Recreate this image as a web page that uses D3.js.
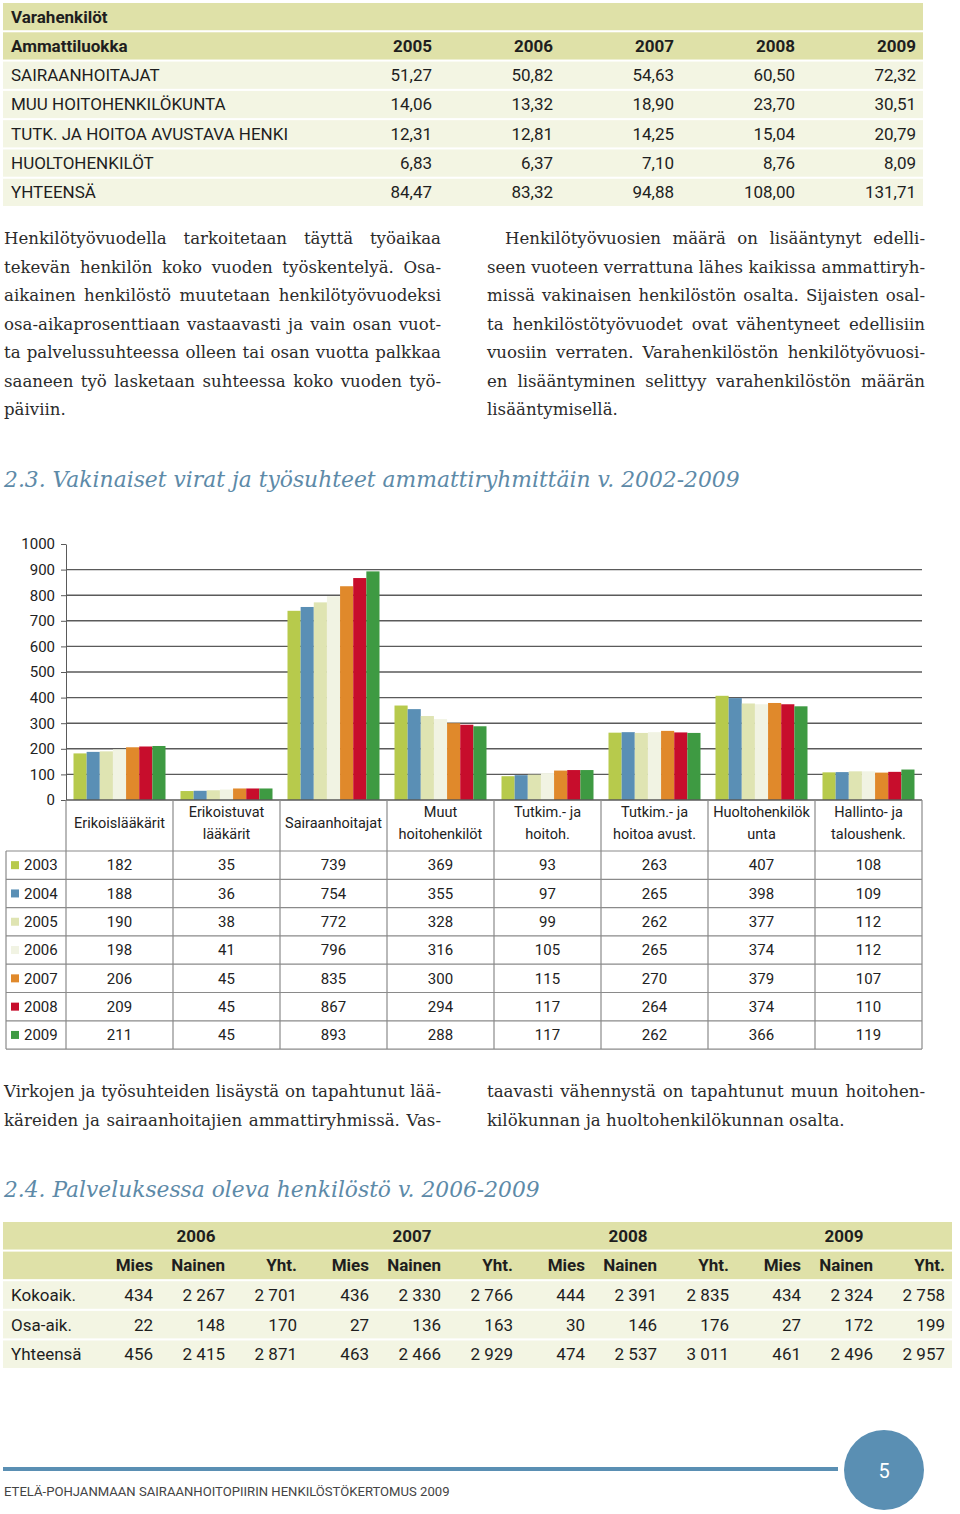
<!DOCTYPE html>
<html>
<head>
<meta charset="utf-8">
<script src="https://cdn.jsdelivr.net/npm/d3@7"></script>
<style>
  body { margin: 0; background: #fff; }
  svg { display: block; }
</style>
</head>
<body>
<script>
// --- Varahenkilöt table ---
var varaYears = ['2005', '2006', '2007', '2008', '2009'];
var varaRows = ['SAIRAANHOITAJAT', 'MUU HOITOHENKILÖKUNTA', 'TUTK. JA HOITOA AVUSTAVA HENKI', 'HUOLTOHENKILÖT', 'YHTEENSÄ'];
var varaSairaanhoitajat = [51.27, 50.82, 54.63, 60.50, 72.32];
var varaMuuHoito = [14.06, 13.32, 18.90, 23.70, 30.51];
var varaTutk = [12.31, 12.81, 14.25, 15.04, 20.79];
var varaHuolto = [6.83, 6.37, 7.10, 8.76, 8.09];
var varaYhteensa = [84.47, 83.32, 94.88, 108.00, 131.71];

// --- chart 2.3 ---
var categories = ['Erikoislääkärit', 'Erikoistuvat\nlääkärit', 'Sairaanhoitajat', 'Muut\nhoitohenkilöt',
  'Tutkim.- ja\nhoitoh.', 'Tutkim.- ja\nhoitoa avust.', 'Huoltohenkilök\nunta', 'Hallinto- ja\ntaloushenk.'];
var years = ['2003', '2004', '2005', '2006', '2007', '2008', '2009'];
var v2003 = [182, 35, 739, 369, 93, 263, 407, 108];
var v2004 = [188, 36, 754, 355, 97, 265, 398, 109];
var v2005 = [190, 38, 772, 328, 99, 262, 377, 112];
var v2006 = [198, 41, 796, 316, 105, 265, 374, 112];
var v2007 = [206, 45, 835, 300, 115, 270, 379, 107];
var v2008 = [209, 45, 867, 294, 117, 264, 374, 110];
var v2009 = [211, 45, 893, 288, 117, 262, 366, 119];
var yTicks = [0, 100, 200, 300, 400, 500, 600, 700, 800, 900, 1000];
var yearColors = ['#b7ca4c', '#5a8fb5', '#dfe4b2', '#f1f3e3', '#e0892b', '#c70d2c', '#3e9a42'];

// --- table 2.4 ---
var persYears = ['2006', '2007', '2008', '2009'];
var persCols = ['Mies', 'Nainen', 'Yht.'];
var persRows = ['Kokoaik.', 'Osa-aik.', 'Yhteensä'];
var persKokoaik = [434, 2267, 2701, 436, 2330, 2766, 444, 2391, 2835, 434, 2324, 2758];
var persOsaaik = [22, 148, 170, 27, 136, 163, 30, 146, 176, 27, 172, 199];
var persYhteensa = [456, 2415, 2871, 463, 2466, 2929, 474, 2537, 3011, 461, 2496, 2957];

// --- texts ---
var paraLeft = [
  'Henkilötyövuodella tarkoitetaan täyttä työaikaa',
  'tekevän henkilön koko vuoden työskentelyä. Osa-',
  'aikainen henkilöstö muutetaan henkilötyövuodeksi',
  'osa-aikaprosenttiaan vastaavasti ja vain osan vuot-',
  'ta palvelussuhteessa olleen tai osan vuotta palkkaa',
  'saaneen työ lasketaan suhteessa koko vuoden työ-',
  'päiviin.'];
var paraRight = [
  'Henkilötyövuosien määrä on lisääntynyt edelli-',
  'seen vuoteen verrattuna lähes kaikissa ammattiryh-',
  'missä vakinaisen henkilöstön osalta. Sijaisten osal-',
  'ta henkilöstötyövuodet ovat vähentyneet edellisiin',
  'vuosiin verraten. Varahenkilöstön henkilötyövuosi-',
  'en lisääntyminen selittyy varahenkilöstön määrän',
  'lisääntymisellä.'];
var para2Left = [
  'Virkojen ja työsuhteiden lisäystä on tapahtunut lää-',
  'käreiden ja sairaanhoitajien ammattiryhmissä. Vas-'];
var para2Right = [
  'taavasti vähennystä on tapahtunut muun hoitohen-',
  'kilökunnan ja huoltohenkilökunnan osalta.'];

var fiLocale = d3.formatLocale({decimal: ',', thousands: ' ', grouping: [3], currency: ['', '']});
var fmtDec = fiLocale.format('.2f');
var fmtInt = fiLocale.format(',d');

var sansFont = 'Roboto, "Noto Sans", sans-serif';
var serifFont = '"DejaVu Serif", serif';
var khaki = '#dfe1a8';
var pale = '#f3f5e3';
var blue = '#5a8fb3';

var svg = d3.select('body').append('svg').attr('width', 960).attr('height', 1514);

// scale the font size of a single text so it spans the given width
function fitWidth(t, w) {
  var fs = parseFloat(t.attr('font-size'));
  var len = t.node().getComputedTextLength();
  t.attr('font-size', fs * w / len);
}

// justified line: each word placed so the line fills the width
function textLine(g, str, x0, width, y, justify, fs) {
  var t = g.append('text').attr('y', y).attr('font-size', fs);
  if (!justify) { t.attr('x', x0).text(str); return; }
  var words = str.split(' ');
  var spans = t.selectAll('tspan').data(words).join('tspan').text(function(d) { return d; });
  var widths = spans.nodes().map(function(n) { return n.getComputedTextLength(); });
  var minGap = fs * 0.22;
  var sum = d3.sum(widths);
  if (sum + minGap * (words.length - 1) > width) {
    // too long: shrink this line a little
    var k = (width - minGap * (words.length - 1)) / sum;
    t.attr('font-size', fs * k);
    widths = spans.nodes().map(function(n) { return n.getComputedTextLength(); });
    sum = d3.sum(widths);
  }
  var gap = (width - sum) / (words.length - 1);
  var x = x0;
  spans.each(function(d, i) {
    d3.select(this).attr('x', x);
    x += widths[i] + gap;
  });
}

function paragraph(lines, x0, width, y0, lh, lastJustify, indent, fs) {
  var g = svg.append('g').attr('font-family', serifFont).attr('fill', '#2b2b2b');
  lines.forEach(function(l, i) {
    var ind = (i === 0 && indent) ? indent : 0;
    var last = i === lines.length - 1;
    textLine(g, l, x0 + ind, width - ind, y0 + i * lh, !last || lastJustify, fs);
  });
}

// ============ Varahenkilöt table ============
var varaData = [varaSairaanhoitajat, varaMuuHoito, varaTutk, varaHuolto, varaYhteensa];
var tRow = d3.scaleBand().domain(d3.range(7)).range([3, 206]).paddingInner(0.07);
var tCol = d3.scalePoint().domain(varaYears).range([432, 916]);
var topTbl = svg.append('g').attr('font-family', sansFont).attr('font-size', 17).attr('fill', '#1e1e1e');

topTbl.selectAll('rect').data(d3.range(7)).join('rect')
  .attr('x', 3).attr('width', 920)
  .attr('y', function(d) { return tRow(d); })
  .attr('height', tRow.bandwidth())
  .attr('fill', function(d) { return d < 2 ? khaki : pale; });

topTbl.append('text').attr('x', 11).attr('y', tRow(0) + tRow.bandwidth() / 2).attr('dy', '0.35em')
  .attr('font-weight', 'bold').text('Varahenkilöt');
topTbl.append('text').attr('x', 11).attr('y', tRow(1) + tRow.bandwidth() / 2).attr('dy', '0.35em')
  .attr('font-weight', 'bold').text('Ammattiluokka');
topTbl.selectAll('.yh').data(varaYears).join('text')
  .attr('x', function(d) { return tCol(d); })
  .attr('y', tRow(1) + tRow.bandwidth() / 2).attr('dy', '0.35em')
  .attr('text-anchor', 'end').attr('font-weight', 'bold').text(function(d) { return d; });

varaRows.forEach(function(r, i) {
  var cy = tRow(i + 2) + tRow.bandwidth() / 2;
  topTbl.append('text').attr('x', 11).attr('y', cy).attr('dy', '0.35em').text(r);
  topTbl.selectAll('.v' + i).data(varaData[i]).join('text')
    .attr('x', function(d, j) { return tCol(varaYears[j]); })
    .attr('y', cy).attr('dy', '0.35em').attr('text-anchor', 'end')
    .text(function(d) { return fmtDec(d); });
});

// ============ paragraphs ============
paragraph(paraLeft, 4, 437, 244, 28.5, false, 0, 16.6);
paragraph(paraRight, 487, 438, 244, 28.5, false, 18, 16.6);

// ============ heading 2.3 ============
var h1 = svg.append('text').attr('x', 4).attr('y', 487)
  .attr('font-family', serifFont).attr('font-style', 'italic').attr('font-size', 22)
  .attr('fill', '#5d8aa8').text('2.3. Vakinaiset virat ja työsuhteet ammattiryhmittäin v. 2002-2009');
fitWidth(h1, 736);

// ============ chart ============
var series = [v2003, v2004, v2005, v2006, v2007, v2008, v2009];
var x0 = d3.scaleBand().domain(categories).range([66, 922]);
var x1 = d3.scaleBand().domain(years).range([7.5, 99.5]);
var y = d3.scaleLinear().domain([0, 1000]).range([800, 544]);
var chart = svg.append('g').attr('font-family', sansFont);

chart.selectAll('.grid').data(yTicks.filter(function(d) { return d > 0 && d < 1000; })).join('line')
  .attr('x1', 66).attr('x2', 922)
  .attr('y1', function(d) { return y(d); }).attr('y2', function(d) { return y(d); })
  .attr('stroke', '#5a5a5a').attr('stroke-width', 1.4);

var yAxis = chart.append('g').attr('transform', 'translate(66,0)')
  .call(d3.axisLeft(y).tickValues(yTicks).tickFormat(d3.format('d'))
    .tickSize(5).tickSizeOuter(0).tickPadding(6));
yAxis.selectAll('text').attr('font-size', 15).attr('fill', '#222').attr('font-family', sansFont);
yAxis.selectAll('line,path').attr('stroke', '#5a5a5a');

var catG = chart.selectAll('.cat').data(categories).join('g')
  .attr('transform', function(d) { return 'translate(' + x0(d) + ',0)'; });
catG.selectAll('rect').data(function(d, ci) {
  return years.map(function(yr, yi) { return {year: yr, yi: yi, value: series[yi][ci]}; });
}).join('rect')
  .attr('x', function(d) { return x1(d.year); })
  .attr('width', x1.bandwidth())
  .attr('y', function(d) { return y(d.value); })
  .attr('height', function(d) { return y(0) - y(d.value); })
  .attr('fill', function(d) { return yearColors[d.yi]; });

// baseline + data table grid
var rowH = 28.3;
var tabTop = 851;
var tabBottom = tabTop + rowH * years.length;
chart.append('line').attr('x1', 66).attr('x2', 922).attr('y1', 800).attr('y2', 800)
  .attr('stroke', '#5a5a5a').attr('stroke-width', 1.4);
var bounds = categories.map(function(c) { return x0(c); }).concat([922]);
chart.selectAll('.vl').data(bounds).join('line')
  .attr('x1', function(d) { return d; }).attr('x2', function(d) { return d; })
  .attr('y1', 800).attr('y2', tabBottom)
  .attr('stroke', '#8a8a8a').attr('stroke-width', 1.2);
chart.append('line').attr('x1', 6).attr('x2', 6).attr('y1', tabTop).attr('y2', tabBottom)
  .attr('stroke', '#8a8a8a').attr('stroke-width', 1.2);
chart.selectAll('.hl').data(d3.range(years.length + 1)).join('line')
  .attr('x1', 6).attr('x2', 922)
  .attr('y1', function(d) { return tabTop + d * rowH; }).attr('y2', function(d) { return tabTop + d * rowH; })
  .attr('stroke', '#8a8a8a').attr('stroke-width', 1.2);

// category labels
catG.each(function(d) {
  var lines = d.split('\n');
  var t = d3.select(this).append('text').attr('text-anchor', 'middle')
    .attr('font-size', 14.5).attr('fill', '#222');
  lines.forEach(function(l, i) {
    t.append('tspan').attr('x', x0.bandwidth() / 2)
      .attr('y', 823 + (i - (lines.length - 1) / 2) * 21.5).attr('dy', '0.35em').text(l);
  });
});

// data table rows
years.forEach(function(yr, yi) {
  var cy = tabTop + rowH * (yi + 0.5);
  chart.append('rect').attr('x', 11).attr('y', cy - 4).attr('width', 8).attr('height', 8)
    .attr('fill', yearColors[yi]);
  chart.append('text').attr('x', 24).attr('y', cy).attr('dy', '0.35em')
    .attr('font-size', 15).attr('fill', '#222').text(yr);
  chart.selectAll('.r' + yr).data(series[yi]).join('text')
    .attr('x', function(d, ci) { return x0(categories[ci]) + x0.bandwidth() / 2; })
    .attr('y', cy).attr('dy', '0.35em').attr('text-anchor', 'middle')
    .attr('font-size', 15).attr('fill', '#222')
    .text(function(d) { return d; });
});

// ============ paragraphs 2 ============
paragraph(para2Left, 4, 437, 1097, 29, true, 0, 16.6);
paragraph(para2Right, 487, 438, 1097, 29, false, 0, 16.6);

// ============ heading 2.4 ============
var h2 = svg.append('text').attr('x', 4).attr('y', 1197)
  .attr('font-family', serifFont).attr('font-style', 'italic').attr('font-size', 22)
  .attr('fill', '#5d8aa8').text('2.4. Palveluksessa oleva henkilöstö v. 2006-2009');
fitWidth(h2, 536);

// ============ table 2.4 ============
var persData = [persKokoaik, persOsaaik, persYhteensa];
var pRow = d3.scaleBand().domain(d3.range(5)).range([1222, 1368]).paddingInner(0.07);
var pGroup = d3.scaleBand().domain(persYears).range([81, 945]);
var pSub = d3.scaleBand().domain(persCols).range([0, pGroup.bandwidth()]);
var bt = svg.append('g').attr('font-family', sansFont).attr('font-size', 17).attr('fill', '#1e1e1e');

bt.selectAll('rect').data(d3.range(5)).join('rect')
  .attr('x', 3).attr('width', 949)
  .attr('y', function(d) { return pRow(d); })
  .attr('height', pRow.bandwidth())
  .attr('fill', function(d) { return d < 2 ? khaki : pale; });

bt.selectAll('.gy').data(persYears).join('text')
  .attr('x', function(d) { return pGroup(d) + pGroup.bandwidth() / 2 + 7; })
  .attr('y', pRow(0) + pRow.bandwidth() / 2).attr('dy', '0.35em')
  .attr('text-anchor', 'middle').attr('font-weight', 'bold').text(function(d) { return d; });

persYears.forEach(function(yr) {
  bt.selectAll('.sc' + yr).data(persCols).join('text')
    .attr('x', function(d) { return pGroup(yr) + pSub(d) + pSub.bandwidth(); })
    .attr('y', pRow(1) + pRow.bandwidth() / 2).attr('dy', '0.35em')
    .attr('text-anchor', 'end').attr('font-weight', 'bold').text(function(d) { return d; });
});

persRows.forEach(function(r, i) {
  var cy = pRow(i + 2) + pRow.bandwidth() / 2;
  bt.append('text').attr('x', 11).attr('y', cy).attr('dy', '0.35em').text(r);
  bt.selectAll('.pv' + i).data(persData[i]).join('text')
    .attr('x', function(d, j) {
      var yr = persYears[Math.floor(j / 3)], col = persCols[j % 3];
      return pGroup(yr) + pSub(col) + pSub.bandwidth();
    })
    .attr('y', cy).attr('dy', '0.35em').attr('text-anchor', 'end')
    .text(function(d) { return fmtInt(d); });
});

// ============ footer ============
svg.append('line').attr('x1', 3).attr('x2', 838).attr('y1', 1469).attr('y2', 1469)
  .attr('stroke', blue).attr('stroke-width', 4);
svg.append('circle').attr('cx', 884).attr('cy', 1470).attr('r', 40).attr('fill', blue);
svg.append('text').attr('x', 884).attr('y', 1471).attr('dy', '0.35em').attr('text-anchor', 'middle')
  .attr('font-family', sansFont).attr('font-size', 20).attr('fill', '#fff').text('5');
var foot = svg.append('text').attr('x', 4).attr('y', 1496)
  .attr('font-family', sansFont).attr('font-size', 14).attr('fill', '#444')
  .text('ETELÄ-POHJANMAAN SAIRAANHOITOPIIRIN HENKILÖSTÖKERTOMUS 2009');
fitWidth(foot, 446);
</script>
</body>
</html>
